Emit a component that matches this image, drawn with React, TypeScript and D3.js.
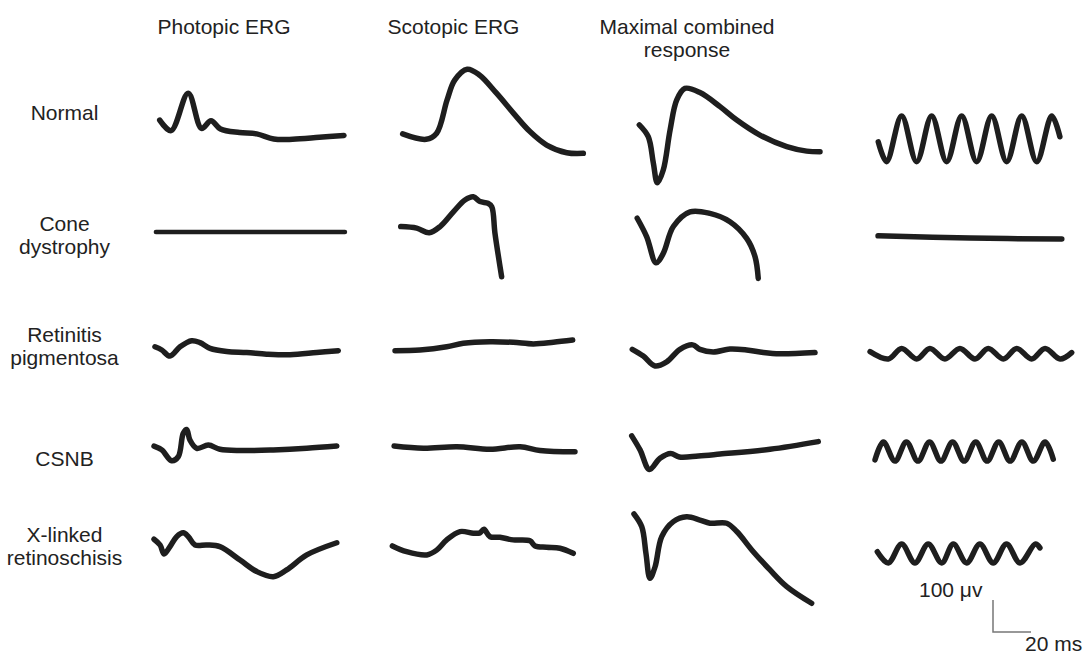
import * as d3 from "d3";

// column headers and row labels (multi-line)
const columns = [["Photopic ERG"], ["Scotopic ERG"], ["Maximal combined", "response"], []];
const conditions = [
  ["Normal"],
  ["Cone", "dystrophy"],
  ["Retinitis", "pigmentosa"],
  ["CSNB"],
  ["X-linked", "retinoschisis"],
];

// traces as [ms, µV] pairs
const normalPhotopic = [[3, 31], [9, -2], [18, 115], [25, 5], [30, 29], [35, 3], [45, -8], [54, -12], [63, -28], [73, -29], [87, -23], [100, -17]];
const normalScotopic = [[5.6, -12], [18, -29], [23.5, -10], [29, 94], [33, 156], [39.6, 190], [46, 172], [55, 115], [64, 52], [72.6, -5], [81.4, -47], [92, -71], [100.7, -73]];
const normalMaximal = [[4.9, 16], [9.6, -21], [12.3, -104], [14.4, -165], [17.5, -125], [21.1, 0], [24.6, 94], [28.9, 130], [36.8, 117], [47.4, 73], [56.2, 31], [68.4, -16], [82.5, -52], [93, -66], [100, -68]];
const normalFlicker = [[5.4, -37], [9.8, -99], [17.7, 44], [25.6, -99], [33.5, 44], [41.4, -99], [49.3, 44], [57.2, -99], [65.1, 44], [73, -99], [80.9, 44], [88.8, -99], [96.7, 44], [101, -21]];

const conePhotopic = [[1, 0], [100.5, 0]];
const coneScotopic = [[4.6, 17], [13, 12], [19.6, -2], [25.3, 17], [32.3, 63], [38.4, 100], [42.8, 110], [46.3, 95], [50.5, 90], [52.5, 79], [54.2, -4], [57.7, -140]];
const coneMaximal = [[3.8, 43], [8.8, -15], [13.7, -96], [17.5, -67], [22.8, 17], [31.6, 63], [42.1, 58], [52.6, 32], [61.4, -20], [65.8, -77], [67.5, -145]];
const coneFlicker = [[5.3, -12], [53.7, -19], [102, -22]];

const rpPhotopic = [[0.5, 10], [4.1, 0], [8.4, -19], [13.7, 10], [19.8, 29], [24.2, 23], [29.5, 5], [38.3, -5], [48.8, -8], [59.3, -13], [71.6, -15], [85.6, -8], [97, -2]];
const rpScotopic = [[1.6, -2], [14.7, 0], [28.8, 10], [37.5, 21], [51.6, 26], [63.8, 24], [74.4, 19], [84.9, 24], [95.1, 31]];
const rpMaximal = [[1.2, 2], [7, -19], [13.2, -50], [19.3, -37], [26.3, 2], [33, 16], [36.8, 2], [43.8, -6], [52.6, 3], [61.4, 0], [70.2, -8], [78.9, -12], [97.4, -8]];
const rpFlicker = [[1.1, -5], [10.7, -28], [17.7, 5], [25.6, -28], [32.6, 5], [40.5, -28], [48.4, 5], [56.3, -28], [63.3, 5], [71.2, -28], [78.3, 5], [86.1, -28], [93.2, 5], [101.1, -28], [107.2, -8]];

const csnbPhotopic = [[0, 6], [4.1, -6], [9.3, -40], [12.8, -27], [15.4, 46], [17.2, 58], [18.9, 25], [22.5, -1], [28.6, 9], [34.7, -4], [45.3, -8], [62.8, -6], [80.4, -1], [96.2, 6]];
const csnbScotopic = [[1.1, 6], [16.5, -1], [34.1, 4], [51.6, -4], [67.4, 4], [77.9, -8], [96.3, -12]];
const csnbMaximal = [[0.9, 38], [5.3, -6], [10.2, -67], [15.8, -32], [21.4, -17], [26, -28], [36, -25], [47.4, -19], [73.7, -4], [99.1, 20]];
const csnbFlicker = [[3.7, -37], [8.1, 19], [14.2, -41], [20.2, 19], [26.3, -41], [32.4, 19], [38.4, -41], [44.5, 19], [50.6, -41], [56.7, 19], [62.7, -41], [68.8, 19], [74.8, -41], [81, 19], [87, -41], [93.2, 19], [97.5, -35]];

const xlrsPhotopic = [[0, 18], [3.2, 0], [5.3, -28], [8.4, -5], [11.9, 26], [15.4, 38], [18.1, 26], [21.6, 0], [27.7, 0], [34.7, -5], [45.3, -47], [54.1, -83], [62.8, -99], [69.8, -78], [80.4, -31], [96.2, 7]];
const xlrsScotopic = [[0.2, -3], [7.7, -21], [18.3, -31], [23.5, -16], [28.8, 16], [35.8, 42], [42.8, 37], [46.3, 38], [48.4, 49], [51.6, 26], [56.8, 24], [63.8, 16], [72.6, 13], [75.3, -3], [81.4, -7], [88.4, -10], [95.4, -26]];
const xlrsMaximal = [[2.1, 97], [6.2, 57], [8.4, -26], [10.5, -104], [13.2, -68], [16.7, 26], [22.8, 73], [29.8, 88], [36.8, 78], [42.1, 68], [50.9, 68], [56.2, 42], [64.9, -21], [73.7, -78], [82.5, -130], [95.6, -182]];
const xlrsFlicker = [[4.9, -21], [10.7, -56], [17.7, 3], [24.7, -56], [31.7, 3], [38.8, -56], [44.9, 3], [51.9, -56], [58.9, 3], [65.9, -56], [72.9, 3], [80, -56], [88.1, 3], [90.5, -9]];

const traces = [
  [normalPhotopic, normalScotopic, normalMaximal, normalFlicker],
  [conePhotopic, coneScotopic, coneMaximal, coneFlicker],
  [rpPhotopic, rpScotopic, rpMaximal, rpFlicker],
  [csnbPhotopic, csnbScotopic, csnbMaximal, csnbFlicker],
  [xlrsPhotopic, xlrsScotopic, xlrsMaximal, xlrsFlicker],
];

const W = 1090;
const H = 654;
const colX = [154, 392, 630, 868];
const rowY = [130, 232, 350, 448, 545];
const headerX = [224, 453.5, 687, 0];
const labelX = 64.5;
const labelY = [[120], [231, 254], [342, 365], [466], [542, 565]];
const font = "'Liberation Sans', Arial, sans-serif";
const fontSize = 21;

// 20 ms -> 38 px, 100 µV -> 32 px
const msPx = 38 / 20;
const uvPx = 32 / 100;

export default function App() {
  const panels = [];
  traces.forEach((row, r) => {
    row.forEach((pts, c) => {
      const x = d3.scaleLinear().domain([0, 20]).range([colX[c], colX[c] + 20 * msPx]);
      const y = d3.scaleLinear().domain([0, 100]).range([rowY[r], rowY[r] - 100 * uvPx]);
      const line = d3
        .line<number[]>()
        .x((d) => x(d[0]))
        .y((d) => y(d[1]))
        .curve(d3.curveCatmullRom.alpha(0.5));
      panels.push(
        <path
          key={`${r}-${c}`}
          d={line(pts) || ""}
          fill="none"
          stroke="#1e1e1e"
          strokeWidth={r === 1 && c === 0 ? 4.5 : 5.5}
          strokeLinecap="round"
          strokeLinejoin="round"
        />
      );
    });
  });

  // scale bar
  const barX = d3.scaleLinear().domain([0, 20]).range([993, 993 + 20 * msPx]);
  const barY = d3.scaleLinear().domain([0, 100]).range([632, 632 - 100 * uvPx]);

  return (
    <svg
      width={W}
      height={H}
      viewBox={`0 0 ${W} ${H}`}
      style={{ position: "absolute", left: 0, top: 0, background: "#fff" }}
    >
      <rect width={W} height={H} fill="#fff" />
      {columns.map((lines, i) =>
        lines.map((t, j) => (
          <text
            key={`h${i}-${j}`}
            x={headerX[i]}
            y={34 + j * 23}
            textAnchor="middle"
            fontFamily={font}
            fontSize={fontSize}
            fill="#222"
          >
            {t}
          </text>
        ))
      )}
      {conditions.map((lines, i) =>
        lines.map((t, j) => (
          <text
            key={`r${i}-${j}`}
            x={labelX}
            y={labelY[i][j]}
            textAnchor="middle"
            fontFamily={font}
            fontSize={fontSize}
            fill="#222"
          >
            {t}
          </text>
        ))
      )}
      {panels}
      <path
        d={`M${barX(0)},${barY(100)}V${barY(0)}H${barX(20)}`}
        fill="none"
        stroke="#777"
        strokeWidth={1.5}
      />
      <text x={919} y={597} fontFamily={font} fontSize={fontSize} fill="#222">
        100 μv
      </text>
      <text x={1025} y={651} fontFamily={font} fontSize={fontSize} fill="#222">
        20 ms
      </text>
    </svg>
  );
}
